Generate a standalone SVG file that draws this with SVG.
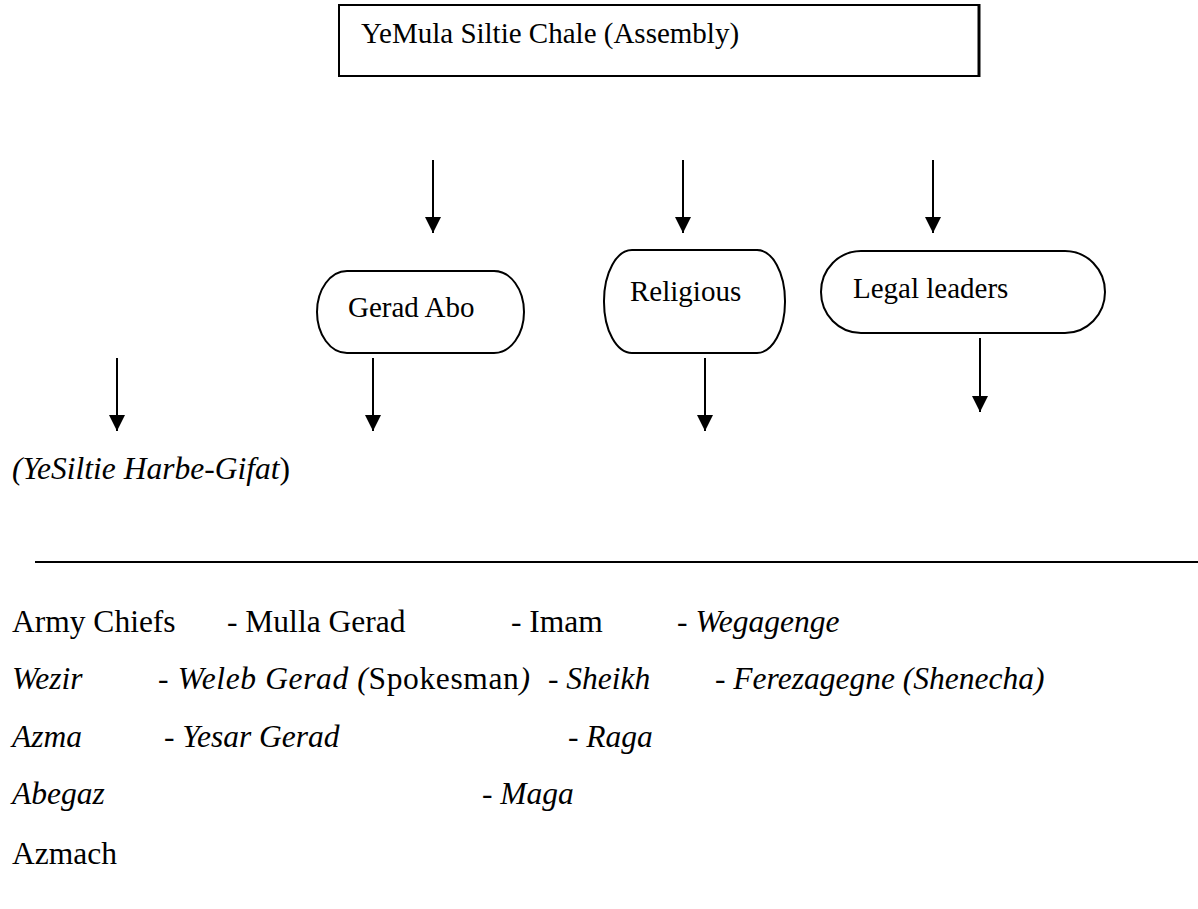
<svg xmlns="http://www.w3.org/2000/svg" width="1198" height="909" viewBox="0 0 1198 909">
<style>
text{font-family:"Liberation Serif","Times New Roman",serif;font-size:29px;fill:#000}
.r{font-size:31.5px}
.i{font-style:italic}
.n{font-style:normal}
.box{fill:#fff;stroke:#000;stroke-width:2}
.arr{stroke:#000;stroke-width:2;fill:none;marker-end:url(#ah)}
</style>
<defs>
<marker id="ah" markerWidth="16" markerHeight="16" viewBox="0 0 16 16" refX="16" refY="8" orient="auto" markerUnits="userSpaceOnUse">
<path d="M0,0 L16,8 L0,16 Z" fill="#000"/>
</marker>
</defs>
<rect width="1198" height="909" fill="#fff"/>
<g id="assembly">
<rect class="box" x="339" y="5" width="640" height="71"/>
<line x1="979" y1="4" x2="979" y2="77" stroke="#000" stroke-width="3"/>
<text x="361" y="43">YeMula Siltie Chale (Assembly)</text>
</g>
<g id="gerad-abo">
<rect class="box" x="317" y="271" width="207" height="82" rx="30" ry="41"/>
<text x="348" y="317">Gerad Abo</text>
</g>
<g id="religious">
<rect class="box" x="604" y="250" width="181" height="103" rx="28" ry="51"/>
<text x="630" y="301">Religious</text>
</g>
<g id="legal-leaders">
<rect class="box" x="821" y="251" width="284" height="82" rx="40" ry="41"/>
<text x="853" y="298">Legal leaders</text>
</g>
<g id="connectors">
<line class="arr" x1="433" y1="160" x2="433" y2="233"/>
<line class="arr" x1="683" y1="160" x2="683" y2="233"/>
<line class="arr" x1="933" y1="160" x2="933" y2="233"/>
<line class="arr" x1="117" y1="358" x2="117" y2="431"/>
<line class="arr" x1="373" y1="358" x2="373" y2="431"/>
<line class="arr" x1="705" y1="358" x2="705" y2="431"/>
<line class="arr" x1="980" y1="338" x2="980" y2="412"/>
</g>
<g id="harbe-gifat">
<text class="r" x="12" y="479"><tspan class="i">(YeSiltie Harbe-Gifat</tspan>)</text>
</g>
<line x1="35" y1="562" x2="1198" y2="562" stroke="#000" stroke-width="2"/>
<g id="lists" class="r">
<text class="r" x="12" y="632">Army Chiefs</text>
<text class="r" x="227" y="632">- Mulla Gerad</text>
<text class="r" x="511" y="632">- Imam</text>
<text class="r" x="677" y="632">- <tspan class="i">Wegagenge</tspan></text>
<text class="r i" x="12" y="689">Wezir</text>
<text class="r i" x="158" y="689" textLength="372" lengthAdjust="spacing">- Weleb Gerad (<tspan class="n">Spokesman</tspan>)</text>
<text class="r i" x="548" y="689">- Sheikh</text>
<text class="r i" x="715" y="689">- Ferezagegne (Shenecha)</text>
<text class="r i" x="12" y="747">Azma</text>
<text class="r i" x="164" y="747">- Yesar Gerad</text>
<text class="r i" x="568" y="747">- Raga</text>
<text class="r i" x="12" y="804">Abegaz</text>
<text class="r i" x="482" y="804">- Maga</text>
<text class="r" x="12" y="864">Azmach</text>
</g>
</svg>
